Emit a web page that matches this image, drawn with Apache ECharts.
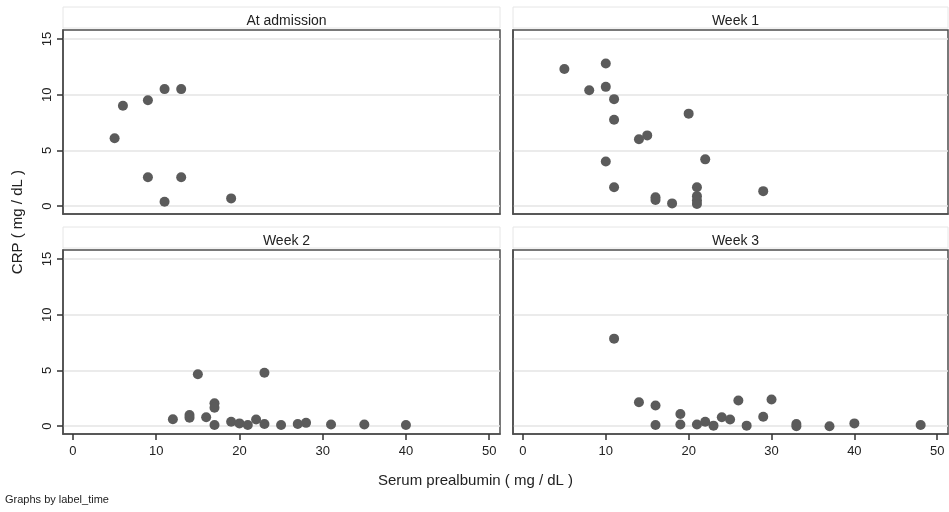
<!DOCTYPE html>
<html>
<head>
<meta charset="utf-8">
<script src="https://cdn.jsdelivr.net/npm/echarts@6/dist/echarts.min.js"></script>
<style>
  html, body { margin: 0; padding: 0; background: #fff; }
  #main { width: 949px; height: 512px; }
</style>
</head>
<body>
<div id="main"></div>
<script>
// panel titles (Stata by() groups)
var panelNames = ['At admission', 'Week 1', 'Week 2', 'Week 3'];

// [prealbumin, CRP]
var admission = [[5, 6.1], [6, 9.0], [9, 9.5], [11, 10.5], [13, 10.5], [9, 2.6], [13, 2.6], [11, 0.4], [19, 0.7]];
var week1 = [[5, 12.3], [10, 12.8], [8, 10.4], [10, 10.7], [11, 9.6], [11, 7.75], [20, 8.3], [14, 6.0], [15, 6.35],
  [10, 4.0], [22, 4.2], [11, 1.7], [16, 0.8], [16, 0.55], [18, 0.25], [21, 1.7], [21, 0.9], [21, 0.5], [21, 0.2], [29, 1.35]];
var week2 = [[15, 4.65], [23, 4.8], [12, 0.63], [14, 1.0], [14, 0.75], [16, 0.8], [17, 2.05], [17, 1.65], [17, 0.1],
  [19, 0.4], [20, 0.25], [21, 0.1], [22, 0.6], [23, 0.2], [25, 0.1], [27, 0.2], [28, 0.3], [31, 0.15], [35, 0.15], [40, 0.1]];
var week3 = [[11, 7.85], [14, 2.15], [16, 1.85], [16, 0.1], [19, 1.1], [19, 0.15], [21, 0.15], [22, 0.4], [23, 0.05],
  [24, 0.8], [25, 0.6], [26, 2.3], [27, 0.05], [29, 0.85], [30, 2.4], [33, 0.2], [33, 0.0], [37, 0.0], [40, 0.25], [48, 0.1]];
var panelData = [admission, week1, week2, week3];

var xTicks = [0, 10, 20, 30, 40, 50];
var yTicks = [0, 5, 10, 15];

var font = 'Liberation Sans, Arial, sans-serif';
var boxes = [
  { left: 63, top: 30, width: 437, height: 184 },
  { left: 513, top: 30, width: 435, height: 184 },
  { left: 63, top: 250, width: 437, height: 184 },
  { left: 513, top: 250, width: 435, height: 184 }
];

var grids = [], xAxes = [], yAxes = [], series = [], titles = [], graphics = [];

boxes.forEach(function (b, i) {
  var bottomRow = i >= 2, leftCol = i % 2 === 0;
  grids.push({ left: b.left, top: b.top, width: b.width, height: b.height, show: true,
    borderColor: '#4d4d4d', borderWidth: 1.5 });
  xAxes.push({
    type: 'value', gridIndex: i, min: -1.2, max: 51.3,
    axisLine: { show: true, onZero: false, lineStyle: { color: '#4d4d4d', width: 1.5 } },
    axisTick: { show: bottomRow, customValues: xTicks, length: 6, lineStyle: { color: '#333', width: 1.5 } },
    axisLabel: { show: bottomRow, customValues: xTicks, color: '#222', fontSize: 13, fontFamily: font, margin: 11 },
    splitLine: { show: false }
  });
  yAxes.push({
    type: 'value', gridIndex: i, min: -0.7, max: 15.8,
    axisLine: { show: true, onZero: false, lineStyle: { color: '#4d4d4d', width: 1.5 } },
    axisTick: { show: leftCol, customValues: yTicks, length: 6, lineStyle: { color: '#333', width: 1.5 } },
    axisLabel: { show: leftCol, customValues: yTicks, rotate: 90, color: '#222', fontSize: 13, fontFamily: font, margin: 9 },
    splitLine: { show: true, lineStyle: { color: '#e4e4e4', width: 1.5 } }
  });
  series.push({
    type: 'scatter', xAxisIndex: i, yAxisIndex: i, data: panelData[i],
    symbolSize: 10, itemStyle: { color: '#5b5b5b', opacity: 1 }, silent: true
  });
  // title strip
  graphics.push({ type: 'rect', shape: { x: b.left, y: b.top - 23, width: b.width, height: 21 },
    style: { fill: '#fff', stroke: '#e6e6e6', lineWidth: 1 }, z: -1 });
  titles.push({ text: panelNames[i], left: b.left + b.width / 2, top: b.top - 21, textAlign: 'center',
    textStyle: { fontFamily: font, fontSize: 14, fontWeight: 'normal', color: '#222' } });
});

graphics.push(
  { type: 'text', left: 10, top: 170, rotation: Math.PI / 2,
    style: { text: 'CRP ( mg / dL )', fontFamily: font, fontSize: 15, fill: '#222' } },
  { type: 'text', left: 378, top: 473,
    style: { text: 'Serum prealbumin ( mg / dL )', fontFamily: font, fontSize: 15, fill: '#222' } },
  { type: 'text', left: 5, top: 494,
    style: { text: 'Graphs by label_time', fontFamily: font, fontSize: 11, fill: '#222' } }
);

var myChart = echarts.init(document.getElementById('main'));
myChart.setOption({
  animation: false,
  backgroundColor: '#fff',
  title: titles,
  grid: grids,
  xAxis: xAxes,
  yAxis: yAxes,
  series: series,
  graphic: graphics
});
</script>
</body>
</html>
